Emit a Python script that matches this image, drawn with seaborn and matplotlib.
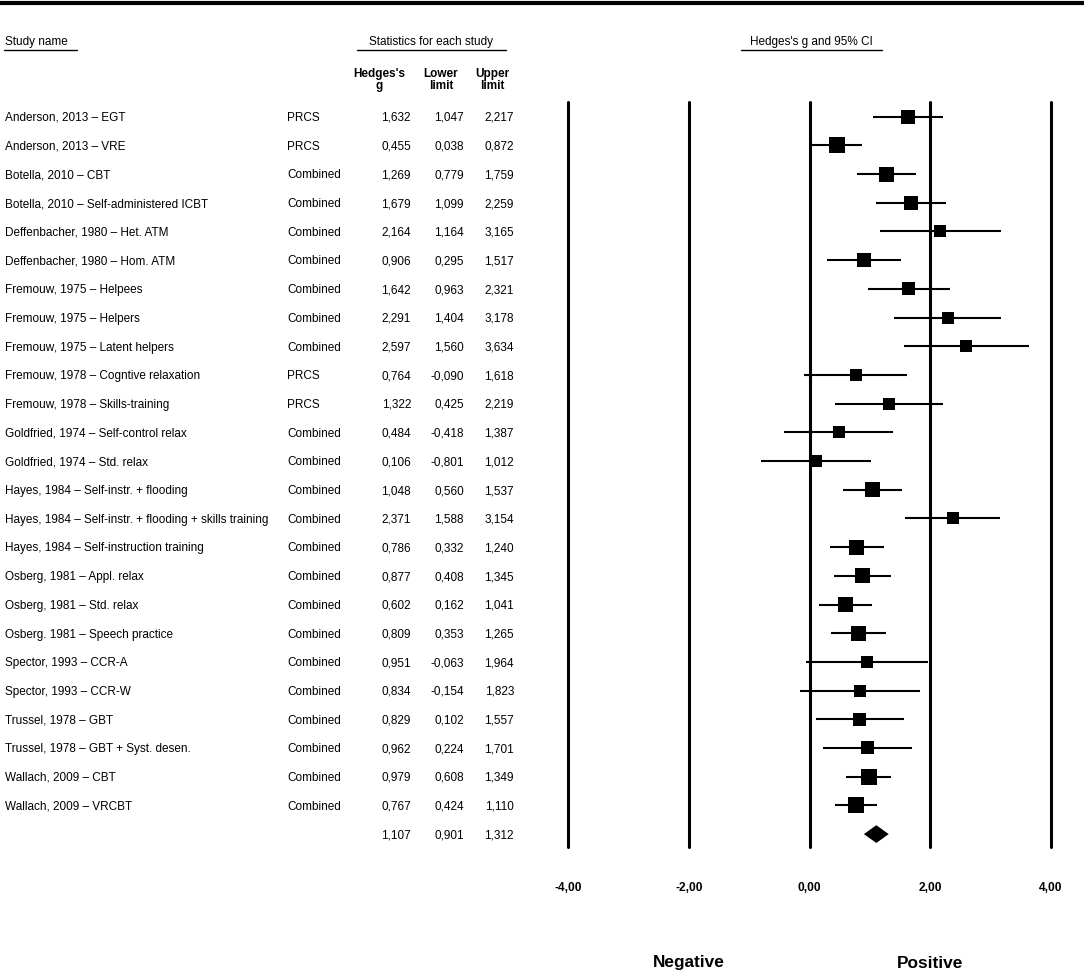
import numpy as np
import pandas as pd
import matplotlib
matplotlib.use("Agg")
import matplotlib.pyplot as plt
import matplotlib.transforms as mtransforms
from matplotlib.lines import Line2D
import seaborn as sns

# ---------------- data ----------------
studies = [
    "Anderson, 2013 \u2013 EGT",
    "Anderson, 2013 \u2013 VRE",
    "Botella, 2010 \u2013 CBT",
    "Botella, 2010 \u2013 Self-administered ICBT",
    "Deffenbacher, 1980 \u2013 Het. ATM",
    "Deffenbacher, 1980 \u2013 Hom. ATM",
    "Fremouw, 1975 \u2013 Helpees",
    "Fremouw, 1975 \u2013 Helpers",
    "Fremouw, 1975 \u2013 Latent helpers",
    "Fremouw, 1978 \u2013 Cogntive relaxation",
    "Fremouw, 1978 \u2013 Skills-training",
    "Goldfried, 1974 \u2013 Self-control relax",
    "Goldfried, 1974 \u2013 Std. relax",
    "Hayes, 1984 \u2013 Self-instr. + flooding",
    "Hayes, 1984 \u2013 Self-instr. + flooding + skills training",
    "Hayes, 1984 \u2013 Self-instruction training",
    "Osberg, 1981 \u2013 Appl. relax",
    "Osberg, 1981 \u2013 Std. relax",
    "Osberg. 1981 \u2013 Speech practice",
    "Spector, 1993 \u2013 CCR-A",
    "Spector, 1993 \u2013 CCR-W",
    "Trussel, 1978 \u2013 GBT",
    "Trussel, 1978 \u2013 GBT + Syst. desen.",
    "Wallach, 2009 \u2013 CBT",
    "Wallach, 2009 \u2013 VRCBT",
]
groups = ["PRCS", "PRCS", "Combined", "Combined", "Combined", "Combined",
          "Combined", "Combined", "Combined", "PRCS", "PRCS", "Combined",
          "Combined", "Combined", "Combined", "Combined", "Combined",
          "Combined", "Combined", "Combined", "Combined", "Combined",
          "Combined", "Combined", "Combined"]
hedges_g = [1.632, 0.455, 1.269, 1.679, 2.164, 0.906, 1.642, 2.291, 2.597,
            0.764, 1.322, 0.484, 0.106, 1.048, 2.371, 0.786, 0.877, 0.602,
            0.809, 0.951, 0.834, 0.829, 0.962, 0.979, 0.767]
lower = [1.047, 0.038, 0.779, 1.099, 1.164, 0.295, 0.963, 1.404, 1.560,
         -0.090, 0.425, -0.418, -0.801, 0.560, 1.588, 0.332, 0.408, 0.162,
         0.353, -0.063, -0.154, 0.102, 0.224, 0.608, 0.424]
upper = [2.217, 0.872, 1.759, 2.259, 3.165, 1.517, 2.321, 3.178, 3.634,
         1.618, 2.219, 1.387, 1.012, 1.537, 3.154, 1.240, 1.345, 1.041,
         1.265, 1.964, 1.823, 1.557, 1.701, 1.349, 1.110]
# relative weight marker side (pixels)
marker_px = [14, 16, 15, 14, 12, 14, 13, 12, 12, 12, 12, 12, 12, 15, 12,
             15, 15, 15, 15, 12, 12, 13, 13, 16, 16]
summary = [1.107, 0.901, 1.312]
tick_vals = [-4, -2, 0, 2, 4]
tick_labels = ["-4,00", "-2,00", "0,00", "2,00", "4,00"]

df = pd.DataFrame({"study": studies, "group": groups, "g": hedges_g,
                   "lo": lower, "hi": upper, "px": marker_px})
df["row"] = np.arange(len(df))
sum_row = len(df)

def fmt(v):
    return f"{v:.3f}".replace(".", ",")

# ---------------- figure ----------------
W, H = 1084, 975
sns.set_theme(style="white")
plt.rcParams["font.family"] = ["Liberation Sans", "DejaVu Sans"]
plt.rcParams["text.color"] = "black"
plt.rcParams["xtick.color"] = "black"
plt.rcParams["xtick.labelcolor"] = "black"
fig = plt.figure(figsize=(W / 100, H / 100), dpi=100)
fig.patch.set_facecolor("white")

def fx(px):
    return px / W

def fy(py):
    return 1 - py / H

ax_left, ax_right, ax_top, ax_bot = 568, 1051, 102, 847
ax = fig.add_axes([fx(ax_left), fy(ax_bot), fx(ax_right - ax_left),
                   (ax_bot - ax_top) / H])
ax.set_facecolor("none")
ax.set_xlim(-4, 4)
ax.set_ylim(25.45, -0.51)
for s in ax.spines.values():
    s.set_visible(False)
ax.set_yticks([])
ax.grid(False)

for t in tick_vals:
    ax.axvline(t, color="black", lw=2.2, clip_on=False, zorder=1)

# CI lines
ax.hlines(df["row"], df["lo"], df["hi"], color="black", lw=1.5, zorder=2)
# squares
sns.scatterplot(data=df, x="g", y="row", marker="s",
                s=(df["px"] * 0.72) ** 2, color="black", linewidth=0,
                legend=False, ax=ax, zorder=3)
# summary diamond
g_s, lo_s, hi_s = summary
dh = 0.31
ax.fill([lo_s, g_s, hi_s, g_s], [sum_row, sum_row - dh, sum_row, sum_row + dh],
        color="black", lw=0, zorder=3)

ax.set_xlabel("")
ax.set_ylabel("")
ax.set_xticks(tick_vals)
ax.set_xticklabels(tick_labels, fontsize=8.6, fontweight="bold",
                   color="black")
ax.tick_params(axis="x", length=0, pad=25, colors="black")

# Negative / Positive
tr_xd = mtransforms.blended_transform_factory(ax.transData, fig.transFigure)
ax.text(-2, fy(963), "Negative", transform=tr_xd, ha="center", va="center",
        fontsize=12.4, fontweight="bold", color="black")
ax.text(2, fy(963), "Positive", transform=tr_xd, ha="center", va="center",
        fontsize=12.4, fontweight="bold", color="black")

# table text (baseline placed a little below the row centre)
tr = mtransforms.blended_transform_factory(fig.transFigure, ax.transData)
fs = 8.5
base = 0.15
kw = dict(transform=tr, va="baseline", fontsize=fs, color="black")
for _, r in df.iterrows():
    yb = r["row"] + base
    ax.text(fx(5), yb, r["study"], ha="left", **kw)
    ax.text(fx(287), yb, r["group"], ha="left", **kw)
    ax.text(fx(411), yb, fmt(r["g"]), ha="right", **kw)
    ax.text(fx(464), yb, fmt(r["lo"]), ha="right", **kw)
    ax.text(fx(514), yb, fmt(r["hi"]), ha="right", **kw)
for xr, v in zip([411, 464, 514], summary):
    ax.text(fx(xr), sum_row + base, fmt(v), ha="right", **kw)

# headers
fig.text(fx(5), fy(42), "Study name", ha="left", va="center", fontsize=fs,
         color="black")
fig.text(fx(431), fy(42), "Statistics for each study", ha="center",
         va="center", fontsize=fs, color="black")
fig.text(fx(811), fy(42), "Hedges's g and 95% CI", ha="center",
         va="center", fontsize=fs, color="black")
for x0, x1 in [(4, 77), (357, 506), (741, 882)]:
    fig.add_artist(Line2D([fx(x0), fx(x1)], [fy(50), fy(50)],
                          transform=fig.transFigure, color="black", lw=1.0))
for xc, txt in [(379, "Hedges's\ng"), (441, "Lower\nlimit"),
                (492, "Upper\nlimit")]:
    fig.text(fx(xc), fy(80), txt, ha="center", va="center", fontsize=fs,
             fontweight="bold", linespacing=1.1, color="black")

# top rule
fig.add_artist(Line2D([0, 1], [fy(3), fy(3)], transform=fig.transFigure,
                      color="black", lw=3))

fig.savefig("out.png", dpi=100, facecolor="white")
